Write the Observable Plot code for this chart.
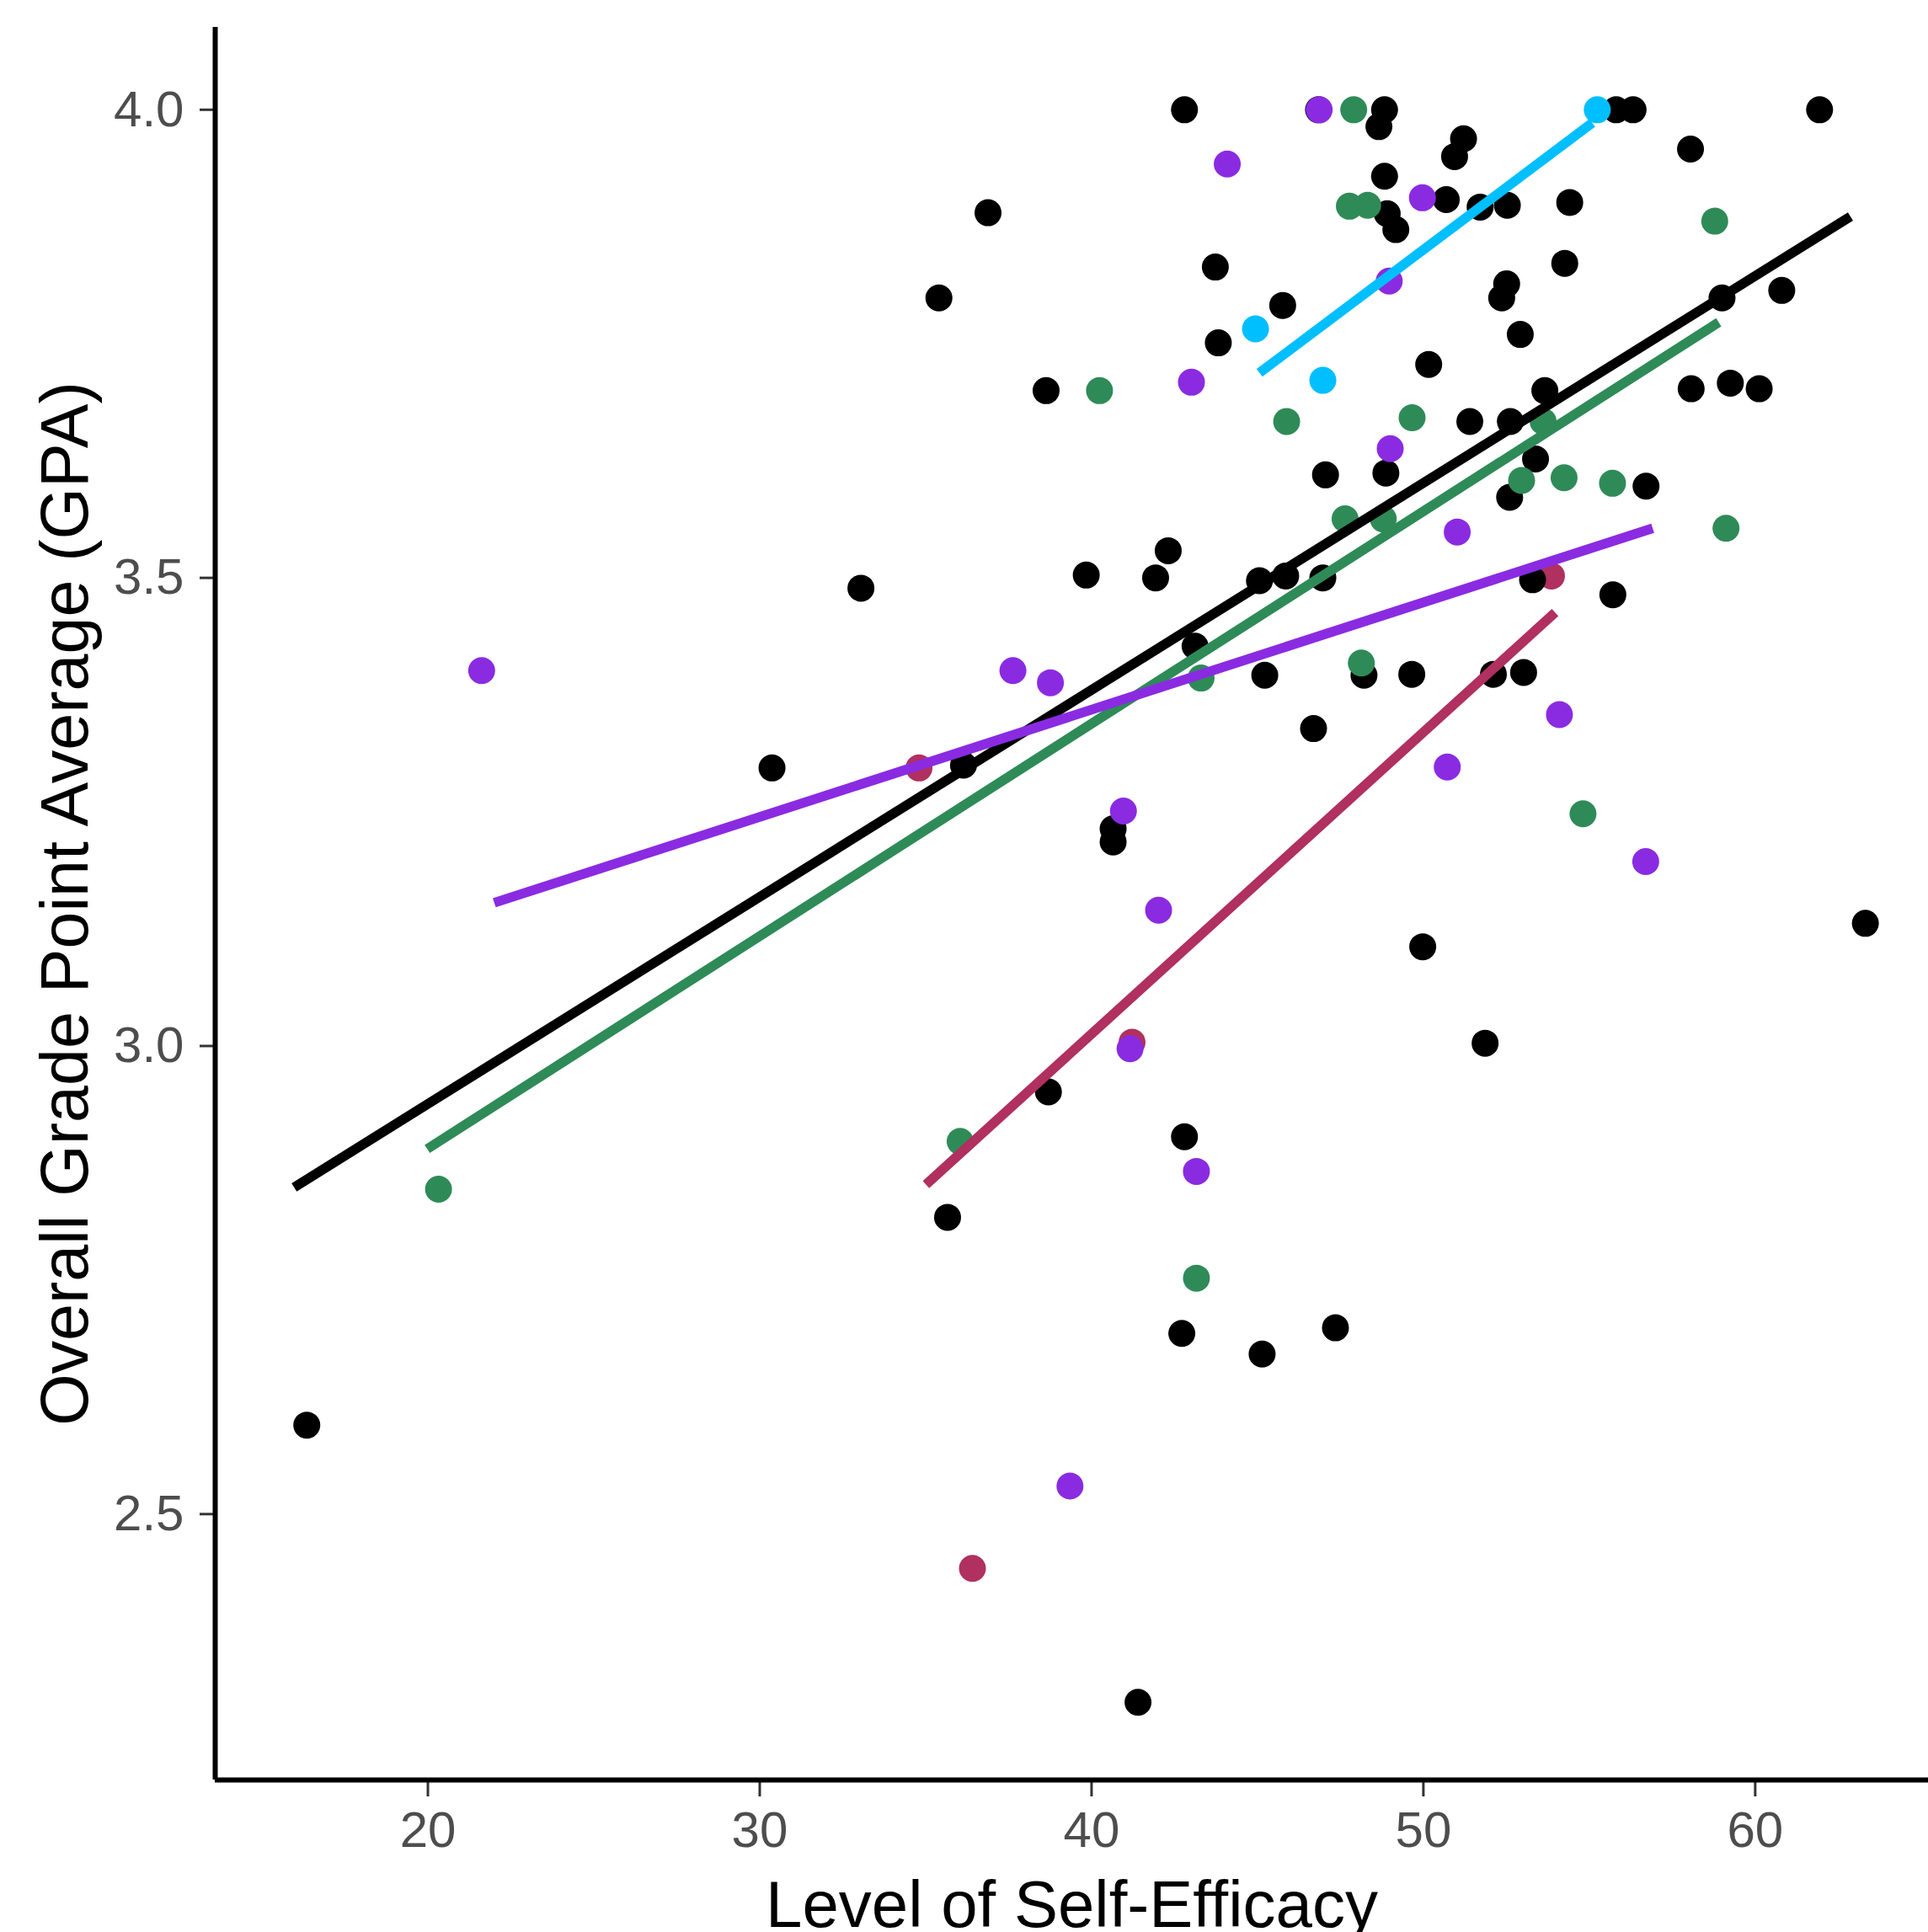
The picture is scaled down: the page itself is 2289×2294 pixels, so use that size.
<!DOCTYPE html>
<html><head><meta charset="utf-8">
<script src="https://cdn.jsdelivr.net/npm/d3@7"></script>
<script src="https://cdn.jsdelivr.net/npm/@observablehq/plot@0.6"></script>
<style>html,body{margin:0;padding:0;background:#fff;} svg{display:block;}</style>
</head><body><div id="chart"></div>
<script>
// ---- data ----
const groupNames  = ["G4", "G1", "G2", "G3", "G5"];
const groupColors = ["#B03060", "#000000", "#2E8B57", "#8A2BE2", "#00BFFF"];

const blackX = [42.8,46.84,48.83,48.66,51.21,50.94,48.83,48.91,49.17,50.69,51.71,43.73,45.76,43.82,50.16,51.40,47.05,48.87,55.81,56.32,61.94,58.05,52.53,54.41,54.26,52.51,52.36,52.92,59.0,60.80,58.07,59.25,60.12,53.66,52.62,53.38,56.71,52.60,42.31,39.84,41.93,45.06,45.85,46.97,43.12,45.22,48.21,49.65,52.11,53.02,46.69,40.65,40.65,53.29,55.71,36.88,35.40,38.63,33.05,30.37,36.14,49.98,51.86,42.80,38.70,35.66,42.72,45.14,47.35,41.40,16.35,63.32];
const blackY = [4.00,4.00,4.00,3.982,3.969,3.950,3.929,3.889,3.872,3.904,3.896,3.832,3.791,3.751,3.728,3.667,3.610,3.612,4.00,4.00,4.00,3.958,3.898,3.901,3.836,3.814,3.799,3.760,3.799,3.807,3.702,3.708,3.702,3.700,3.667,3.627,3.598,3.586,3.529,3.503,3.500,3.497,3.502,3.500,3.427,3.396,3.396,3.397,3.397,3.399,3.339,3.232,3.218,3.498,3.482,3.890,3.799,3.700,3.489,3.297,3.300,3.106,3.003,2.903,2.951,2.817,2.693,2.671,2.699,2.299,2.595,3.131];

const greenX = [47.90,47.77,48.32,40.24,45.88,49.66,58.78,53.61,52.96,54.24,55.70,47.64,48.79,43.30,48.13,59.12,54.81,43.16,36.04,20.32];
const greenY = [4.00,3.897,3.898,3.700,3.667,3.671,3.881,3.667,3.604,3.607,3.601,3.563,3.563,3.393,3.409,3.553,3.248,2.752,2.898,2.847];

const purpleX = [46.86,44.09,49.97,48.97,43.01,49.0,51.02,50.72,40.96,42.02,54.10,56.70,37.63,38.76,41.16,43.16,39.35,21.62];
const purpleY = [4.00,3.942,3.906,3.817,3.709,3.638,3.549,3.298,3.251,3.145,3.354,3.197,3.401,3.388,2.997,2.866,2.530,3.401];

const maroonX = [34.80,53.86,41.22,36.41];
const maroonY = [3.297,3.502,3.004,2.442];

const cyanX = [44.94,46.97,55.24];
const cyanY = [3.766,3.711,4.00];

// fitted lines (start / end)
const fitGroups = ["G1", "G2", "G4", "G5", "G3"];
const fitX1 = [15.97, 19.98, 35.01, 45.06, 22.0];
const fitY1 = [2.849, 2.890, 2.852, 3.719, 3.153];
const fitX2 = [62.87, 58.90, 53.97, 55.09, 56.91];
const fitY2 = [3.886, 3.773, 3.463, 3.986, 3.553];

const xTicks = [20, 30, 40, 50, 60];
const yTicks = [2.5, 3.0, 3.5, 4.0];
const xTitle = "Level of Self-Efficacy";
const yTitle = "Overall Grade Point Average (GPA)";

// ---- build tables ----
const series = {G4: [maroonX, maroonY], G1: [blackX, blackY], G2: [greenX, greenY], G3: [purpleX, purpleY], G5: [cyanX, cyanY]};
const points = [];
for (const g of groupNames) {
  const [xs, ys] = series[g];
  xs.forEach((x, i) => points.push({group: g, x, y: ys[i]}));
}
const fits = fitGroups.map((g, i) => ({group: g, x1: fitX1[i], y1: fitY1[i], x2: fitX2[i], y2: fitY2[i]}));

const xDomain = [13.59, 65.22];
const yDomain = [2.216, 4.088];

const chart = Plot.plot({
  width: 2289,
  height: 2294,
  marginLeft: 255,
  marginRight: 0,
  marginTop: 32,
  marginBottom: 181,
  style: {fontFamily: "'Liberation Sans', Arial, Helvetica, sans-serif", background: "#fff"},
  x: {domain: xDomain},
  y: {domain: yDomain},
  color: {type: "ordinal", domain: groupNames, range: groupColors},
  marks: [
    Plot.dot(points, {x: "x", y: "y", fill: "group", r: 16}),
    Plot.link(fits, {x1: "x1", y1: "y1", x2: "x2", y2: "y2", stroke: "group", strokeWidth: 11.5}),
    Plot.axisX(xTicks, {tickSize: 20, tickPadding: 17, fontSize: 60, stroke: "#333333", strokeWidth: 3, fill: "#4D4D4D", label: null}),
    Plot.axisY(yTicks, {tickSize: 18, tickPadding: 19, fontSize: 60, stroke: "#333333", strokeWidth: 3, fill: "#4D4D4D", tickFormat: d3.format(".1f"), label: null}),
    Plot.ruleX([xDomain[0]], {stroke: "#000", strokeWidth: 6}),
    Plot.ruleY([yDomain[0]], {stroke: "#000", strokeWidth: 6}),
    Plot.text([xTitle], {frameAnchor: "bottom", textAnchor: "middle", lineAnchor: "bottom", dy: 174, fontSize: 78, fill: "#000"}),
    Plot.text([yTitle], {frameAnchor: "left", textAnchor: "middle", lineAnchor: "bottom", rotate: -90, dx: -152, fontSize: 79, fill: "#000"})
  ]
});
document.getElementById("chart").appendChild(chart);
</script></body></html>
